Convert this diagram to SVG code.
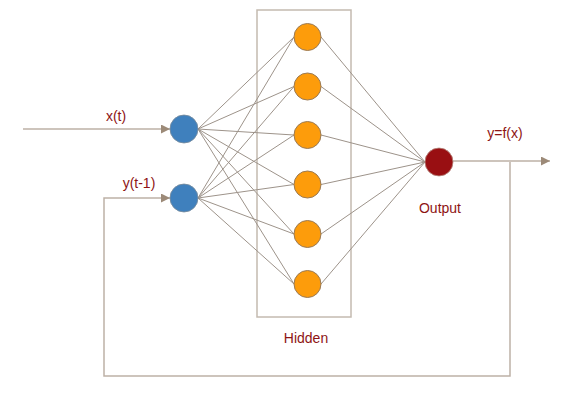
<svg xmlns="http://www.w3.org/2000/svg" width="582" height="401" viewBox="0 0 582 401">
<defs>
<marker id="arr" viewBox="0 0 10 10" refX="10" refY="5" markerWidth="9" markerHeight="9" markerUnits="userSpaceOnUse" orient="auto">
<path d="M0,0 L10,5 L0,10 z" fill="#9c8a78"/>
</marker>
<style>
.lbl{font-family:"Liberation Sans",Arial,sans-serif;font-size:14px;fill:#8e1414;text-anchor:middle}
.flow{stroke:#bdb1a6;stroke-width:1.5;fill:none}
.conn{stroke:#9d938a;stroke-width:1;fill:none}
.in{fill:#3f80bd;stroke:#7a8a99;stroke-width:0.8}
.hid{fill:#fd9c0b;stroke:#9a7a55;stroke-width:1}
.out{fill:#990f12;stroke:#b58a80;stroke-width:0.8}
</style>
</defs>
<rect id="hidden-box" x="257" y="10" width="94" height="307" fill="none" stroke="#c4bab0" stroke-width="1.5"/>
<g id="connectors">
<path class="flow" d="M23,129 H170" marker-end="url(#arr)"/>
<path class="flow" d="M510,162 V376 H104 V198 H170" marker-end="url(#arr)"/>
<path class="flow" d="M453,161 H550" marker-end="url(#arr)"/>
<g class="conn">
<path d="M198,129 L294,37 M198,129 L294,86.5 M198,129 L294,135 M198,129 L294,184.5 M198,129 L294,234 M198,129 L294,284"/>
<path d="M198,198 L294,37 M198,198 L294,86.5 M198,198 L294,135 M198,198 L294,184.5 M198,198 L294,234 M198,198 L294,284"/>
<path d="M321,37 L425,162 M321,86.5 L425,162 M321,135 L425,162 M321,184.5 L425,162 M321,234 L425,162 M321,284 L425,162"/>
</g>
</g>
<g id="in1"><circle class="in" cx="184" cy="129" r="14"/></g>
<g id="in2"><circle class="in" cx="184" cy="198" r="14"/></g>
<g id="h1"><circle class="hid" cx="307.5" cy="37" r="13.5"/></g>
<g id="h2"><circle class="hid" cx="307.5" cy="86.5" r="13.5"/></g>
<g id="h3"><circle class="hid" cx="307.5" cy="135" r="13.5"/></g>
<g id="h4"><circle class="hid" cx="307.5" cy="184.5" r="13.5"/></g>
<g id="h5"><circle class="hid" cx="307.5" cy="234" r="13.5"/></g>
<g id="h6"><circle class="hid" cx="307.5" cy="284" r="13.5"/></g>
<g id="out"><circle class="out" cx="439" cy="162" r="14"/></g>
<text class="lbl" x="116" y="121">x(t)</text>
<text class="lbl" x="139" y="188">y(t-1)</text>
<text class="lbl" x="505" y="138">y=f(x)</text>
<text class="lbl" x="440" y="213">Output</text>
<text class="lbl" x="306" y="343">Hidden</text>
</svg>
